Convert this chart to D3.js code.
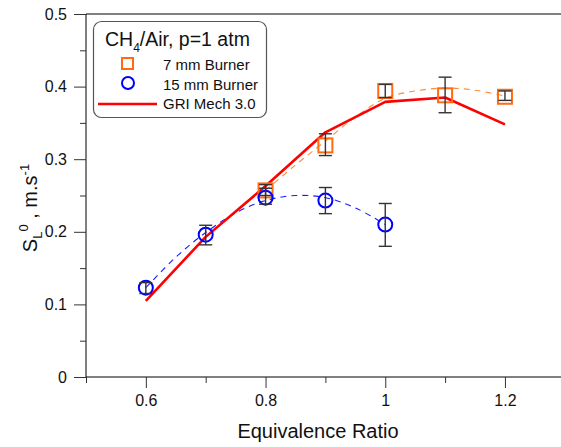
<!DOCTYPE html>
<html><head><meta charset="utf-8">
<script src="https://cdn.jsdelivr.net/npm/d3@7"></script>
<style>body{margin:0;background:#fff}svg{display:block;font-family:"Liberation Sans",Arial,sans-serif}</style>
</head><body><svg id="c" width="561" height="447"></svg>
<script>
// ---- data ----
const phi7 = [0.8, 0.9, 1.0, 1.1, 1.2];
const s7 = [0.257, 0.319, 0.394, 0.388, 0.386];
const s7Lo = [0.250, 0.305, 0.385, 0.364, 0.381];
const s7Hi = [0.265, 0.335, 0.403, 0.413, 0.394];

const phi15 = [0.6, 0.7, 0.8, 0.9, 1.0];
const s15 = [0.123, 0.196, 0.247, 0.243, 0.210];
const s15Lo = [0.115, 0.182, 0.238, 0.225, 0.180];
const s15Hi = [0.130, 0.209, 0.260, 0.261, 0.239];

const phiGri = [0.6, 0.7, 0.8, 0.9, 1.0, 1.1, 1.2];
const sGri = [0.105, 0.193, 0.263, 0.337, 0.379, 0.385, 0.348];

// dashed fit curves
const fit15Phi = [0.6, 0.65, 0.7, 0.75, 0.8, 0.85, 0.9, 0.95, 1.0];
const fit15S = [0.123, 0.165, 0.199, 0.226, 0.243, 0.250, 0.247, 0.233, 0.210];
const fit7Phi = [0.8, 0.85, 0.9, 0.95, 1.0, 1.05, 1.1, 1.15, 1.2];
const fit7S = [0.257, 0.292, 0.325, 0.358, 0.384, 0.394, 0.398, 0.395, 0.387];

const xTicks = [0.6, 0.8, 1.0, 1.2];
const xMinor = [0.5, 0.7, 0.9, 1.1, 1.3];
const yTicks = [0, 0.1, 0.2, 0.3, 0.4, 0.5];
const yMinor = [0.05, 0.15, 0.25, 0.35, 0.45];

// ---- chart ----
const svg = d3.select("#c");
const x = d3.scaleLinear().domain([0.5, 1.3]).range([86, 564.8]);
const y = d3.scaleLinear().domain([0, 0.5]).range([377, 14]);

// frame
svg.append("line").attr("x1", x(0.5)).attr("x2", 561).attr("y1", y(0.5)).attr("y2", y(0.5)).attr("stroke", "#000").attr("stroke-width", 1);

const xAxis = svg.append("g").attr("transform", `translate(0,${y(0)})`)
  .call(d3.axisBottom(x).tickValues(xTicks).tickSize(11).tickPadding(7).tickFormat(d3.format("~g")));
svg.append("g").attr("transform", `translate(0,${y(0)})`)
  .call(d3.axisBottom(x).tickValues(xMinor).tickSize(6).tickFormat("")).select(".domain").remove();
const yAxis = svg.append("g").attr("transform", `translate(${x(0.5)},0)`)
  .call(d3.axisLeft(y).tickValues(yTicks).tickSize(12).tickPadding(7).tickFormat(d3.format("~g")));
svg.append("g").attr("transform", `translate(${x(0.5)},0)`)
  .call(d3.axisLeft(y).tickValues(yMinor).tickSize(6).tickFormat("")).select(".domain").remove();
svg.selectAll(".domain").attr("stroke", "#000");
svg.selectAll(".tick line").attr("stroke", "#333");
svg.selectAll(".tick text").attr("font-size", 16).attr("fill", "#111").attr("font-family", "Liberation Sans, Arial, sans-serif");
xAxis.select(".domain").attr("d", `M${x(0.5)},0H${x(1.3)}`);
yAxis.select(".domain").attr("d", `M0,${y(0.5)}V${y(0)}`);

// axis titles
svg.append("text").attr("x", 318).attr("y", 438).attr("text-anchor", "middle").attr("font-size", 20).attr("fill", "#111").text("Equivalence Ratio");
const yt = svg.append("text").attr("transform", "translate(37,208) rotate(-90)").attr("text-anchor", "middle").attr("font-size", 20).attr("fill", "#111");
yt.append("tspan").text("S");
yt.append("tspan").attr("font-size", 13).attr("dy", 5).text("L");
yt.append("tspan").attr("font-size", 13).attr("dy", -14).text("0");
yt.append("tspan").attr("dy", 9).text(" , m.s");
yt.append("tspan").attr("font-size", 13).attr("dy", -8).text("-1");

const line = d3.line().x(d => x(d[0])).y(d => y(d[1]));
const curve = d3.line().x(d => x(d[0])).y(d => y(d[1])).curve(d3.curveCatmullRom);

// dashed fits
svg.append("path").attr("d", curve(d3.zip(fit15Phi, fit15S))).attr("fill", "none").attr("stroke", "#1a1aff").attr("stroke-width", 1.1).attr("stroke-dasharray", "6,5");
svg.append("path").attr("d", curve(d3.zip(fit7Phi, fit7S))).attr("fill", "none").attr("stroke", "#ff8c3a").attr("stroke-width", 1.1).attr("stroke-dasharray", "6,5");

// GRI line
svg.append("path").attr("d", line(d3.zip(phiGri, sGri))).attr("fill", "none").attr("stroke", "#ff0000").attr("stroke-width", 2.6).attr("stroke-linejoin", "round");

// markers
svg.append("g").selectAll("rect").data(d3.zip(phi7, s7)).join("rect")
  .attr("x", d => x(d[0]) - 7).attr("y", d => y(d[1]) - 7).attr("width", 14).attr("height", 14)
  .attr("fill", "none").attr("stroke", "#ff6a13").attr("stroke-width", 2);
svg.append("g").selectAll("circle").data(d3.zip(phi15, s15)).join("circle")
  .attr("cx", d => x(d[0])).attr("cy", d => y(d[1])).attr("r", 7)
  .attr("fill", "none").attr("stroke", "#0000ff").attr("stroke-width", 2);

// error bars
function errBars(px, lo, hi) {
  const g = svg.append("g").attr("stroke", "#333").attr("stroke-width", 1.4);
  px.forEach((p, i) => {
    g.append("line").attr("x1", x(p)).attr("x2", x(p)).attr("y1", y(lo[i])).attr("y2", y(hi[i]));
    g.append("line").attr("x1", x(p) - 6.5).attr("x2", x(p) + 6.5).attr("y1", y(lo[i])).attr("y2", y(lo[i]));
    g.append("line").attr("x1", x(p) - 6.5).attr("x2", x(p) + 6.5).attr("y1", y(hi[i])).attr("y2", y(hi[i]));
  });
}
errBars(phi7, s7Lo, s7Hi);
errBars(phi15, s15Lo, s15Hi);

// legend
const lg = svg.append("g");
lg.append("rect").attr("x", 93.5).attr("y", 21.5).attr("width", 173).attr("height", 96).attr("rx", 8).attr("fill", "#fff").attr("stroke", "#555").attr("stroke-width", 1.2);
const tt = lg.append("text").attr("x", 105).attr("y", 46).attr("font-size", 19.5).attr("fill", "#111");
tt.append("tspan").text("CH");
tt.append("tspan").attr("font-size", 12).attr("dy", 6).text("4");
tt.append("tspan").attr("dy", -6).text("/Air, p=1 atm");
lg.append("rect").attr("x", 122).attr("y", 58).attr("width", 11).attr("height", 11).attr("fill", "none").attr("stroke", "#ff6a13").attr("stroke-width", 2);
lg.append("circle").attr("cx", 128).attr("cy", 83).attr("r", 6).attr("fill", "none").attr("stroke", "#0000ff").attr("stroke-width", 2);
lg.append("line").attr("x1", 98).attr("x2", 157).attr("y1", 104).attr("y2", 104).attr("stroke", "#ff0000").attr("stroke-width", 2.6);
const labels = ["7 mm Burner", "15 mm Burner", "GRI Mech 3.0"];
[70, 89.5, 109].forEach((yy, i) => lg.append("text").attr("x", 163).attr("y", yy).attr("font-size", 15).attr("fill", "#111").text(labels[i]));
</script></body></html>
